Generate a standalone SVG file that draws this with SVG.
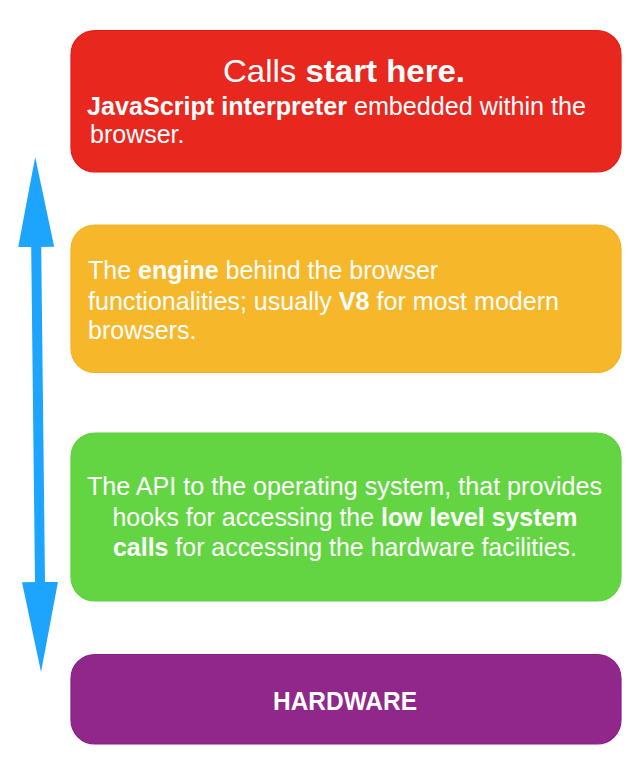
<svg xmlns="http://www.w3.org/2000/svg" width="626" height="768" viewBox="0 0 626 768">
  <style>
    text { font-family: "Liberation Sans", Arial, Helvetica, sans-serif; fill: #ffffff; }
    .body { font-size: 25px; }
    .title { font-size: 32px; }
    .b { font-weight: bold; }
    .box { stroke-width: 1.2; }
  </style>
  <defs>
    <marker id="head" markerUnits="userSpaceOnUse" markerWidth="92" markerHeight="40" refX="0" refY="20" viewBox="0 0 92 40" orient="auto-start-reverse">
      <path d="M0,2 L90,20 L0,38 Z" fill="#1DA5FD"/>
    </marker>
  </defs>
  <rect width="626" height="768" fill="#ffffff"/>

  <g id="connectors">
    <line x1="36.2" y1="247" x2="40" y2="582" stroke="#1DA5FD" stroke-width="10" marker-start="url(#head)" marker-end="url(#head)"/>
  </g>

  <g id="node-interpreter">
    <rect class="box" x="71" y="30.5" width="550" height="141.5" rx="24" fill="#E8271F" stroke="#E51C16"/>
    <text class="title" x="344" y="82" text-anchor="middle" textLength="242" lengthAdjust="spacingAndGlyphs">Calls <tspan class="b">start here.</tspan></text>
    <text class="body" x="87" y="115" textLength="499" lengthAdjust="spacingAndGlyphs"><tspan class="b">JavaScript interpreter</tspan> embedded within the</text>
    <text class="body" x="90" y="143">browser.</text>
  </g>

  <g id="node-engine">
    <rect class="box" x="71" y="225" width="550" height="147.5" rx="24" fill="#F6B72B" stroke="#F4B222"/>
    <text class="body" x="88" y="278.5">The <tspan class="b">engine</tspan> behind the browser</text>
    <text class="body" x="88" y="309.5" textLength="471" lengthAdjust="spacingAndGlyphs">functionalities; usually <tspan class="b">V8</tspan> for most modern</text>
    <text class="body" x="88" y="338.5">browsers.</text>
  </g>

  <g id="node-os-api">
    <rect class="box" x="71" y="433" width="550" height="168" rx="24" fill="#63D543" stroke="#5AD23A"/>
    <text class="body" x="344.5" y="495" text-anchor="middle" textLength="515" lengthAdjust="spacingAndGlyphs">The API to the operating system, that provides</text>
    <text class="body" x="345" y="525.5" text-anchor="middle" textLength="465" lengthAdjust="spacingAndGlyphs">hooks for accessing the <tspan class="b">low level system</tspan></text>
    <text class="body" x="345" y="556" text-anchor="middle" textLength="464" lengthAdjust="spacingAndGlyphs"><tspan class="b">calls</tspan> for accessing the hardware facilities.</text>
  </g>

  <g id="node-hardware">
    <rect class="box" x="71" y="654.5" width="550" height="89.5" rx="24" fill="#91278B" stroke="#8C1C89"/>
    <text class="body b" x="345" y="710" text-anchor="middle" textLength="144" lengthAdjust="spacingAndGlyphs">HARDWARE</text>
  </g>
</svg>
